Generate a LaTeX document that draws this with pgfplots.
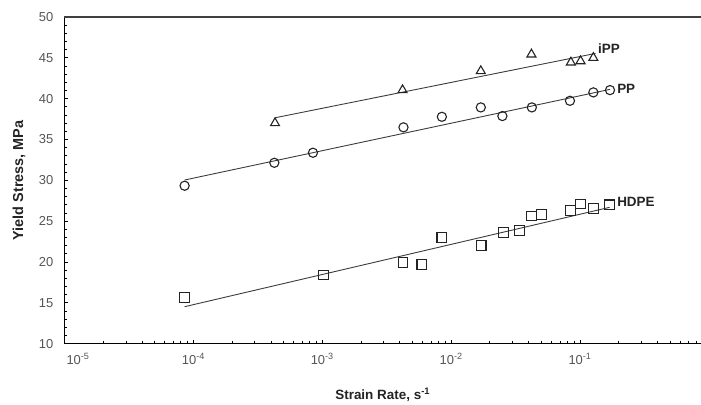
\documentclass[border=0pt]{standalone}
\usepackage{pgfplots}
\pgfplotsset{compat=1.18}
\usepackage{fontspec}
\setmainfont{Liberation Sans}
\definecolor{ink}{RGB}{35,35,35}
\definecolor{tickgray}{RGB}{85,85,85}
\definecolor{fitgray}{RGB}{60,60,60}
\begin{document}
\begin{tikzpicture}
\useasboundingbox (-64.5bp,-61.3bp) rectangle (636.5bp,343.7bp);
\begin{axis}[
  at={(0,0)}, anchor=south west,
  scale only axis, width=636.5bp, height=326.7bp,
  xmode=log, xmin=1e-5, xmax=0.869,
  ymin=10, ymax=50,
  axis lines=left, axis line style={-, line width=1.3bp, black},
  tick align=inside,
  major tick length=4bp, minor tick length=3bp,
  every tick/.style={black, line width=0.9bp},
  xtick={1e-5,1e-4,1e-3,1e-2,1e-1},
  xticklabels={\hspace*{27bp}10\textsuperscript{-5},10\textsuperscript{-4},10\textsuperscript{-3},10\textsuperscript{-2},10\textsuperscript{-1}},
  minor xtick={2e-5,3e-5,4e-5,5e-5,6e-5,7e-5,8e-5,9e-5,
               2e-4,3e-4,4e-4,5e-4,6e-4,7e-4,8e-4,9e-4,
               2e-3,3e-3,4e-3,5e-3,6e-3,7e-3,8e-3,9e-3,
               2e-2,3e-2,4e-2,5e-2,6e-2,7e-2,8e-2,9e-2,
               0.2,0.3,0.4,0.5,0.6,0.7,0.8},
  ytick={10,15,...,50}, minor y tick num=4,
  /pgf/number format/assume math mode=true,
  xticklabel style={font=\fontsize{13}{13}\selectfont, text=tickgray, anchor=base, yshift=-20.5bp},
  yticklabel style={font=\fontsize{13}{13}\selectfont, text=tickgray, anchor=east, inner sep=0pt, xshift=-11bp},
  xlabel={Strain Rate, s\textsuperscript{-1}},
  ylabel={Yield Stress, MPa},
  every axis x label/.style={at={(axis description cs:0.5,-0.156)}, anchor=center,
    font=\fontsize{13.5}{13.5}\selectfont\bfseries, text=ink},
  every axis y label/.style={at={(axis description cs:-0.0715,0.5)}, anchor=center, rotate=90,
    font=\fontsize{14.5}{14.5}\selectfont\bfseries, text=ink},
  clip=false,
]
% top border
\draw[line width=2bp, black!75] (rel axis cs:0,1) -- (rel axis cs:1,1);

% iPP
\addplot[only marks, mark=triangle, mark size=5.2bp, mark options={ink, line width=1.1bp, fill=none}]
  coordinates {(4.3e-4,37.01) (4.2e-3,41.05) (0.017,43.38) (0.042,45.42) (0.085,44.44) (0.101,44.6) (0.127,45.0)};
\addplot[fitgray, line width=0.9bp] coordinates {(4.3e-4,37.66) (0.132,45.54)};

% PP
\addplot[only marks, mark=o, mark size=4.6bp, mark options={ink, line width=1.1bp}]
  coordinates {(8.55e-5,29.34) (4.25e-4,32.15) (8.47e-4,33.38) (4.27e-3,36.49) (8.48e-3,37.78) (0.017,38.93)
               (0.025,37.87) (0.0423,38.93) (0.0836,39.74) (0.127,40.77) (0.171,41.05)};
\addplot[fitgray, line width=0.9bp] coordinates {(8.55e-5,30.04) (0.171,41.14)};

% HDPE
\addplot[only marks, mark=square, mark size=4.9bp, mark options={ink, line width=1.1bp}]
  coordinates {(8.55e-5,15.63) (1.02e-3,18.41) (4.23e-3,19.91) (5.93e-3,19.72) (8.48e-3,23.02) (0.0171,22.0)
               (0.0254,23.59) (0.0338,23.83) (0.0422,25.63) (0.0505,25.79) (0.0847,26.28) (0.101,27.1)
               (0.127,26.52) (0.169,27.0)};
\addplot[fitgray, line width=0.9bp] coordinates {(8.55e-5,14.53) (0.17,26.7)};

% series names
\node[anchor=west, inner sep=0pt, font=\fontsize{13.5}{13.5}\selectfont\bfseries, text=ink] at (axis cs:0.138,46.07) {iPP};
\node[anchor=west, inner sep=0pt, font=\fontsize{13.5}{13.5}\selectfont\bfseries, text=ink] at (axis cs:0.194,41.17) {PP};
\node[anchor=west, inner sep=0pt, font=\fontsize{13.5}{13.5}\selectfont\bfseries, text=ink] at (axis cs:0.194,27.34) {HDPE};
\end{axis}
\end{tikzpicture}
\end{document}
